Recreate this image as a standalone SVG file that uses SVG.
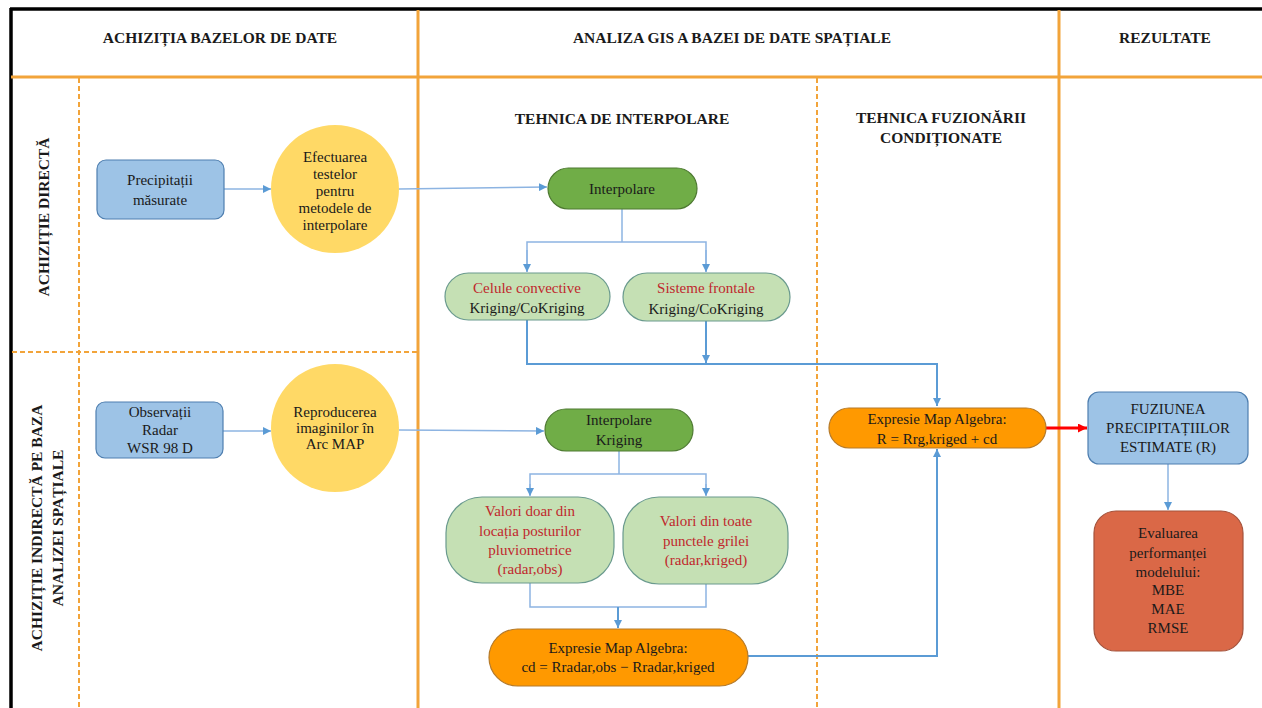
<svg xmlns="http://www.w3.org/2000/svg" width="1262" height="708" viewBox="0 0 1262 708" font-family="'Liberation Serif', 'DejaVu Serif', serif">
<defs>
<marker id="ab" viewBox="0 0 8 8" refX="8" refY="4" markerWidth="8" markerHeight="8" markerUnits="userSpaceOnUse" orient="auto"><path d="M0,0 L8,4 L0,8 z" fill="#5B9BD5"/></marker>
<marker id="ar" viewBox="0 0 8 8" refX="8" refY="4" markerWidth="9" markerHeight="9" markerUnits="userSpaceOnUse" orient="auto"><path d="M0,0 L8,4 L0,8 z" fill="#FF0000"/></marker>
</defs>
<style>
text{font-family:'Liberation Serif','DejaVu Serif',serif;font-size:15px;fill:#1a1a1a;text-anchor:middle}
.hd{font-weight:bold;font-size:15.5px}
.red{fill:#C0282D}
.lane{stroke:#F2A43A;fill:none}
.solid{stroke-width:3}
.dash{stroke-width:2;stroke-dasharray:5,3}
.c1{stroke:#8DB4E2;stroke-width:1.5;fill:none}
.c2{stroke:#5B9BD5;stroke-width:2;fill:none}
.blue{fill:#9DC3E6;stroke:#4F7FB0;stroke-width:1.2}
.yel{fill:#FFD966}
.dg{fill:#70AD47;stroke:#4E7A32;stroke-width:1.2}
.lg{fill:#C5E0B4;stroke:#6A9A8E;stroke-width:1.2}
.org{fill:#FF9900;stroke:#B57A2A;stroke-width:1.2}
.rd{fill:#DA6847;stroke:#A4523B;stroke-width:1.2}
</style>
<rect x="0" y="0" width="1262" height="708" fill="#FFFFFF"/>
<g id="frame">
<line x1="10" y1="9" x2="1262" y2="9" stroke="#000" stroke-width="3.5"/>
<line x1="11" y1="8" x2="11" y2="708" stroke="#000" stroke-width="3.5"/>
<line class="lane solid" x1="11" y1="77" x2="1262" y2="77"/>
<line class="lane solid" x1="418" y1="10" x2="418" y2="708"/>
<line class="lane solid" x1="1059" y1="10" x2="1059" y2="708"/>
<line class="lane dash" x1="79" y1="78" x2="79" y2="708"/>
<line class="lane dash" x1="817" y1="78" x2="817" y2="708"/>
<line class="lane dash" x1="12" y1="352" x2="418" y2="352"/>
</g>
<g id="labels">
<text class="hd" x="220" y="43">ACHIZIȚIA  BAZELOR  DE DATE</text>
<text class="hd" x="732" y="43">ANALIZA  GIS A BAZEI  DE DATE SPAȚIALE</text>
<text class="hd" x="1165" y="43">REZULTATE</text>
<text class="hd" x="622" y="124">TEHNICA DE INTERPOLARE</text>
<text class="hd" x="941" y="123">TEHNICA  FUZIONĂRII</text>
<text class="hd" x="941" y="143">CONDIȚIONATE</text>
<g transform="translate(0,217) rotate(-90)"><text class="hd" x="0" y="49">ACHIZIȚIE  DIRECTĂ</text></g>
<g transform="translate(0,528) rotate(-90)"><text class="hd" x="0" y="42">ACHIZIȚIE  INDIRECTĂ PE BAZA</text><text class="hd" x="0" y="63">ANALIZEI  SPAȚIALE</text></g>
</g>
<g id="connectors">
<line class="c1" x1="224" y1="189" x2="271" y2="189" marker-end="url(#ab)"/>
<line class="c1" x1="399" y1="189" x2="547" y2="187" marker-end="url(#ab)"/>
<line class="c1" x1="223" y1="431" x2="271" y2="431" marker-end="url(#ab)"/>
<line class="c1" x1="399" y1="430" x2="544" y2="431" marker-end="url(#ab)"/>
<polyline class="c1" points="622,209 622,242"/>
<polyline class="c1" points="527,272 527,242 706,242 706,272" />
<line class="c1" x1="527" y1="250" x2="527" y2="272" marker-end="url(#ab)"/>
<line class="c1" x1="706" y1="250" x2="706" y2="272" marker-end="url(#ab)"/>
<polyline class="c2" points="527,320 527,364 937,364 937,406" marker-end="url(#ab)"/>
<line class="c2" x1="706" y1="321" x2="706" y2="363" marker-end="url(#ab)"/>
<polyline class="c1" points="619,451 619,474"/>
<polyline class="c1" points="530,495 530,474 706,474 706,495"/>
<line class="c1" x1="530" y1="484" x2="530" y2="496" marker-end="url(#ab)"/>
<line class="c1" x1="706" y1="484" x2="706" y2="496" marker-end="url(#ab)"/>
<polyline class="c1" points="530,583 530,607 706,607 706,584"/>
<line class="c2" x1="618" y1="607" x2="618" y2="628" marker-end="url(#ab)"/>
<polyline class="c2" points="748,656 937,656 937,449" marker-end="url(#ab)"/>
<line x1="1046" y1="428" x2="1087" y2="428" stroke="#FF0000" stroke-width="3" marker-end="url(#ar)"/>
<line class="c1" x1="1168" y1="464" x2="1168" y2="510" marker-end="url(#ab)"/>
</g>
<g id="n-precipitatii"><rect class="blue" x="97" y="160" width="127" height="59" rx="9"/><text x="160" y="185">Precipitații</text><text x="160" y="205">măsurate</text></g>
<g id="n-efectuarea"><circle class="yel" cx="335" cy="189" r="64"/><text x="335" y="162">Efectuarea</text><text x="335" y="179">testelor</text><text x="335" y="196">pentru</text><text x="335" y="213">metodele  de</text><text x="335" y="230">interpolare</text></g>
<g id="n-observatii"><rect class="blue" x="96" y="402" width="127" height="56" rx="9"/><text x="160" y="417">Observații</text><text x="160" y="435">Radar</text><text x="160" y="453">WSR 98 D</text></g>
<g id="n-reproducerea"><circle class="yel" cx="335" cy="428" r="64"/><text x="335" y="417">Reproducerea</text><text x="335" y="433">imaginilor  în</text><text x="335" y="449">Arc MAP</text></g>
<g id="n-interpolare"><rect class="dg" x="548" y="168" width="149" height="41" rx="20.5"/><text x="622" y="194">Interpolare</text></g>
<g id="n-celule"><rect class="lg" x="445" y="273" width="165" height="47" rx="23.5"/><text class="red" x="527" y="293">Celule  convective</text><text x="527" y="313">Kriging/CoKriging</text></g>
<g id="n-sisteme"><rect class="lg" x="623" y="273" width="167" height="48" rx="24"/><text class="red" x="706" y="293">Sisteme  frontale</text><text x="706" y="314">Kriging/CoKriging</text></g>
<g id="n-interpolare-kriging"><rect class="dg" x="545" y="409" width="148" height="42" rx="21"/><text x="619" y="425">Interpolare</text><text x="619" y="445">Kriging</text></g>
<g id="n-valori-doar"><rect class="lg" x="446" y="497" width="168" height="86" rx="36"/><text class="red" x="530" y="516">Valori  doar  din</text><text class="red" x="530" y="536">locația  posturilor</text><text class="red" x="530" y="555">pluviometrice</text><text class="red" x="530" y="574">(radar,obs)</text></g>
<g id="n-valori-toate"><rect class="lg" x="623" y="497" width="165" height="87" rx="36"/><text class="red" x="706" y="526">Valori  din  toate</text><text class="red" x="706" y="546">punctele  grilei</text><text class="red" x="706" y="565">(radar,kriged)</text></g>
<g id="n-expresie-cd"><rect class="org" x="489" y="629" width="259" height="57" rx="28.5"/><text x="618" y="653">Expresie  Map Algebra:</text><text x="618" y="672">cd = Rradar,obs  − Rradar,kriged</text></g>
<g id="n-expresie-r"><rect class="org" x="829" y="408" width="217" height="40" rx="20"/><text x="937" y="424">Expresie  Map Algebra:</text><text x="937" y="444">R = Rrg,kriged  + cd</text></g>
<g id="n-fuziunea"><rect class="blue" x="1088" y="392" width="160" height="72" rx="11"/><text x="1168" y="414">FUZIUNEA</text><text x="1168" y="433">PRECIPITAȚIILOR</text><text x="1168" y="452">ESTIMATE  (R)</text></g>
<g id="n-evaluarea"><rect class="rd" x="1094" y="511" width="149" height="140" rx="22"/><text x="1168" y="538">Evaluarea</text><text x="1168" y="558">performanței</text><text x="1168" y="577">modelului:</text><text x="1168" y="595">MBE</text><text x="1168" y="614">MAE</text><text x="1168" y="633">RMSE</text></g>
</svg>
